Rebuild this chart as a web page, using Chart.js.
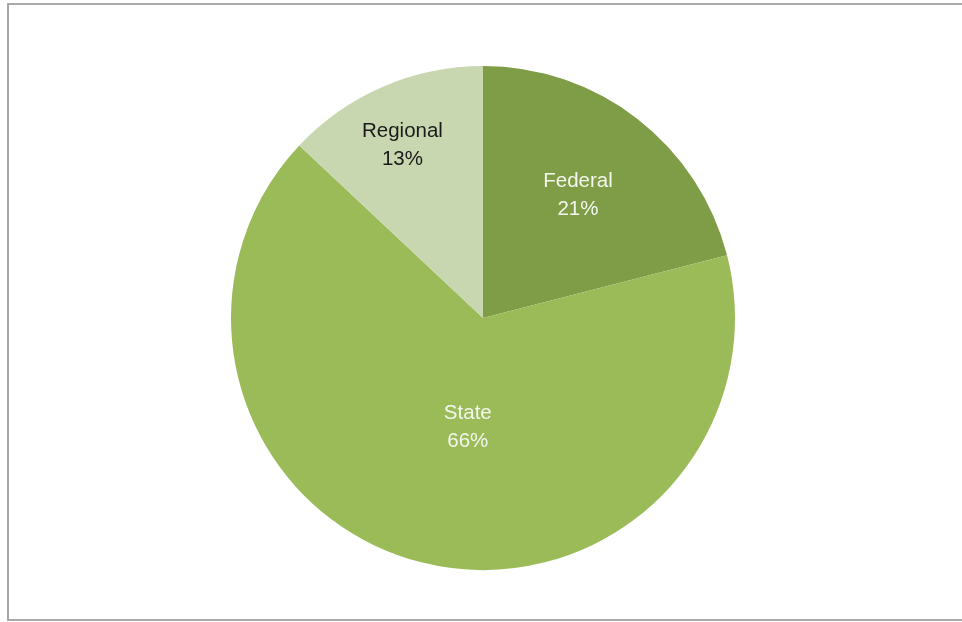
<!DOCTYPE html>
<html>
<head>
<meta charset="utf-8">
<script src="https://cdn.jsdelivr.net/npm/chart.js@4/dist/chart.umd.min.js"></script>
<style>
  html, body { margin: 0; padding: 0; background: #ffffff; overflow: hidden; }
  #wrap { position: relative; width: 962px; height: 622px; }
  #frame {
    position: absolute; left: 7px; top: 3px; width: 970px; height: 618px;
    border: 2px solid #a8a8a8; box-sizing: border-box; pointer-events: none;
  }
  canvas { position: absolute; left: 0; top: 0; }
</style>
</head>
<body>
<div id="wrap">
  <canvas id="chart" width="962" height="622"></canvas>
  <div id="frame"></div>
</div>
<script>
// Funding sources by level of government (percent share)
const categories = ['Federal', 'State', 'Regional'];
const shares = [21, 66, 13];
const sliceColors = ['#7F9C47', '#9BBB59', '#C8D7AF'];
const labelColors = ['#F4F6EE', '#F4F6EE', '#1A1A1A'];

// Draws "Name / NN%" inside each slice
const sliceLabels = {
  id: 'sliceLabels',
  afterDatasetsDraw(chart, args, opts) {
    const ctx = chart.ctx;
    const meta = chart.getDatasetMeta(0);
    ctx.save();
    ctx.font = '20.5px "Liberation Sans", Arial, sans-serif';
    ctx.textAlign = 'center';
    ctx.textBaseline = 'middle';
    meta.data.forEach((arc, i) => {
      const mid = (arc.startAngle + arc.endAngle) / 2;
      const r = arc.outerRadius * opts.radial[i];
      const x = arc.x + Math.cos(mid) * r + opts.shiftX[i];
      const y = arc.y + Math.sin(mid) * r;
      ctx.fillStyle = labelColors[i];
      ctx.fillText(categories[i], x, y - 14);
      ctx.fillText(shares[i] + '%', x, y + 14);
    });
    ctx.restore();
  }
};

new Chart(document.getElementById('chart'), {
  type: 'pie',
  data: {
    labels: categories,
    datasets: [{
      data: shares,
      backgroundColor: sliceColors,
      borderWidth: 0
    }]
  },
  options: {
    responsive: false,
    animation: false,
    layout: { padding: { left: 100, right: 96, top: 66, bottom: 52 } },
    plugins: {
      legend: { display: false },
      tooltip: { enabled: false },
      sliceLabels: {
        radial: [0.615, 0.45, 0.745],
        shiftX: [0, 13, -6]
      }
    }
  },
  plugins: [sliceLabels]
});
</script>
</body>
</html>
